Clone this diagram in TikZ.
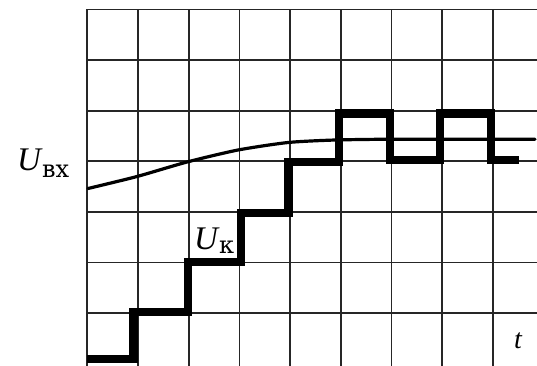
\documentclass[tikz,border=0pt]{standalone}
\usepackage{fontspec}
\setmainfont{Liberation Serif}
\newfontfamily\subcyr{DejaVu Serif}
\begin{document}
\begin{tikzpicture}[x=1pt,y=-1pt,
  gridline/.style={line width=1.8pt,black!85,line cap=rect},
  stairs/.style={line width=8.5pt,black,line join=miter},
  input/.style={line width=3.2pt,black,line cap=round},
  lbl/.style={inner sep=0pt,anchor=base west}]
\useasboundingbox (0,0) rectangle (537,365);
\fill[white] (0,0) rectangle (537,365);
% grid
\foreach \i in {0,...,8}
  \draw[gridline] ({87.3+50.7*\i},9.5) -- ({87.3+50.7*\i},366);
\foreach \j in {0,...,6}
  \draw[gridline] (87.3,{9.5+50.6*\j}) -- (538,{9.5+50.6*\j});
% input voltage curve
\draw[input] plot[smooth, tension=0.4] coordinates {(88,188.5) (137,176.5) (187,162) (238,150) (288,142.5) (335,140) (390,139.2) (460,139.2) (535,139.2)};
% capacitor voltage staircase
\draw[stairs] (87,359) -- (133.5,359) -- (133.5,312) -- (188,312) -- (188,262)
  -- (241,262) -- (241,213) -- (288.5,213) -- (288.5,162) -- (339,162)
  -- (339,113.5) -- (390,113.5) -- (390,160) -- (440,160) -- (440,113.5)
  -- (491,113.5) -- (491,160) -- (519,160);
% labels
\node[lbl] (uin) at (17,170) {\fontsize{33}{33}\selectfont\itshape U\hspace{1pt}\raisebox{-7pt}{\subcyr\upshape\fontsize{24}{24}\selectfont вх}};
\node[lbl] (uk) at (194,249) {\fontsize{33}{33}\selectfont\itshape U\hspace{1pt}\raisebox{-4pt}{\subcyr\upshape\fontsize{24}{24}\selectfont к}};
\node[lbl] (t) at (514,348) {\fontsize{28}{28}\selectfont\itshape t};
\end{tikzpicture}
\end{document}
